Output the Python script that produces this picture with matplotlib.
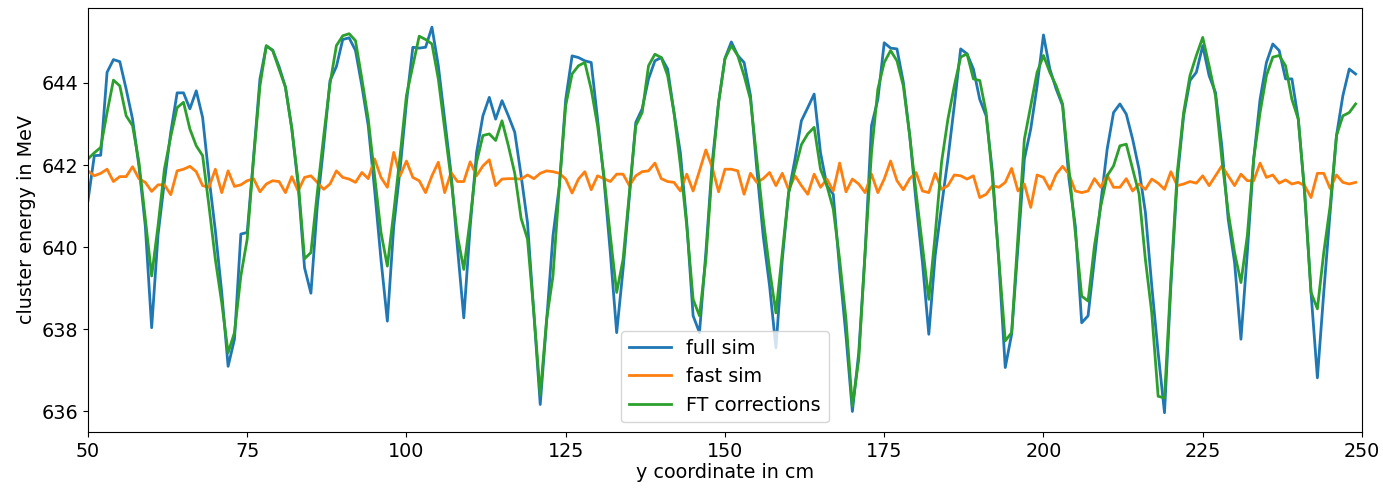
import matplotlib
matplotlib.use("Agg")
import matplotlib.pyplot as plt
import numpy as np

# y positions in cm, one sample per cm
y_pos = np.arange(50, 250)

full_sim = [
    641.13, 642.23, 642.24, 644.26, 644.57, 644.52, 643.85, 643.12, 641.98, 640.52,
    638.04, 640.30, 641.60, 642.80, 643.76, 643.76, 643.37, 643.81, 643.16, 641.70,
    640.40, 638.90, 637.10, 637.76, 640.32, 640.36, 642.20, 644.10, 644.90, 644.80,
    644.40, 643.90, 642.90, 641.50, 639.50, 638.88, 641.00, 642.47, 644.06, 644.40,
    645.06, 645.10, 644.79, 643.93, 642.96, 641.40, 639.70, 638.20, 640.50, 641.90,
    643.53, 644.87, 644.85, 644.87, 645.36, 644.42, 643.12, 641.80, 640.00, 638.28,
    640.50, 642.30, 643.20, 643.65, 643.12, 643.57, 643.20, 642.80, 641.74, 640.60,
    638.40, 636.17, 638.20, 640.28, 641.50, 643.60, 644.66, 644.62, 644.54, 644.50,
    643.12, 641.66, 639.87, 637.92, 639.46, 641.25, 643.04, 643.37, 644.10, 644.54,
    644.62, 644.34, 643.28, 642.30, 640.60, 638.33, 637.92, 639.87, 642.07, 643.53,
    644.60, 645.00, 644.67, 644.50, 643.70, 641.90, 640.28, 639.06, 637.55, 639.70,
    641.33, 642.15, 643.08, 643.40, 643.73, 642.30, 641.50, 641.29, 639.46, 637.84,
    636.00, 637.43, 639.87, 642.96, 643.60, 644.98, 644.85, 644.83, 644.02, 642.72,
    641.10, 639.63, 637.88, 639.80, 641.00, 642.15, 643.45, 644.83, 644.71, 644.34,
    643.60, 643.20, 641.82, 639.63, 637.07, 637.88, 640.03, 642.15, 642.88, 643.93,
    645.17, 644.34, 643.85, 643.45, 641.66, 640.52, 638.16, 638.33, 639.70, 641.09,
    642.39, 643.28, 643.49, 643.24, 642.63, 641.90, 640.85, 639.06, 637.43, 635.97,
    639.06, 641.66, 643.20, 644.06, 644.26, 644.91, 644.18, 643.77, 642.47, 640.68,
    639.63, 637.76, 639.87, 642.15, 643.60, 644.50, 644.95, 644.79, 644.10, 644.10,
    643.12, 641.33, 638.90, 636.82, 638.90, 640.85, 642.72, 643.69, 644.34, 644.22,
]

fast_sim = [
    641.86, 641.74, 641.80, 641.90, 641.60, 641.72, 641.72, 641.96, 641.67, 641.58,
    641.36, 641.52, 641.52, 641.28, 641.86, 641.90, 641.97, 641.84, 641.50, 641.46,
    641.90, 641.33, 641.86, 641.48, 641.52, 641.62, 641.67, 641.35, 641.54, 641.62,
    641.60, 641.33, 641.72, 641.37, 641.70, 641.74, 641.58, 641.41, 641.54, 641.86,
    641.70, 641.66, 641.58, 641.82, 641.67, 642.15, 641.70, 641.46, 642.31, 641.74,
    642.10, 641.70, 641.62, 641.33, 641.74, 642.07, 641.33, 641.82, 641.60, 641.60,
    642.08, 641.74, 641.98, 642.13, 641.50, 641.66, 641.67, 641.67, 641.66, 641.76,
    641.67, 641.80, 641.86, 641.84, 641.80, 641.66, 641.32, 641.66, 641.84, 641.40,
    641.74, 641.67, 641.60, 641.78, 641.78, 641.50, 641.74, 641.84, 641.86, 642.05,
    641.67, 641.60, 641.58, 641.37, 641.78, 641.37, 641.86, 642.37, 641.94, 641.35,
    641.90, 641.90, 641.86, 641.29, 641.80, 641.58, 641.67, 641.82, 641.50, 641.80,
    641.40, 641.74, 641.50, 641.29, 641.78, 641.46, 641.66, 641.37, 642.05, 641.35,
    641.66, 641.54, 641.33, 641.78, 641.33, 641.66, 642.10, 641.62, 641.40, 641.67,
    641.82, 641.37, 641.33, 641.80, 641.41, 641.50, 641.76, 641.74, 641.66, 641.74,
    641.21, 641.29, 641.50, 641.46, 641.58, 641.92, 641.37, 641.54, 640.97, 641.76,
    641.70, 641.41, 641.78, 641.97, 641.78, 641.37, 641.33, 641.37, 641.67, 641.46,
    641.76, 641.46, 641.46, 641.67, 641.37, 641.54, 641.41, 641.66, 641.56, 641.41,
    641.84, 641.50, 641.54, 641.60, 641.56, 641.74, 641.50, 641.74, 641.98, 641.74,
    641.50, 641.78, 641.62, 641.62, 642.05, 641.70, 641.76, 641.56, 641.64, 641.54,
    641.58, 641.50, 641.21, 641.80, 641.80, 641.43, 641.76, 641.58, 641.54, 641.58,
]

ft_corr = [
    642.15, 642.30, 642.43, 643.28, 644.07, 643.93, 643.20, 642.96, 642.07, 640.70,
    639.30, 640.52, 641.90, 642.70, 643.40, 643.53, 642.88, 642.47, 642.23, 641.00,
    639.70, 638.65, 637.43, 637.92, 639.30, 640.20, 642.15, 643.93, 644.91, 644.79,
    644.34, 643.90, 642.88, 641.60, 639.72, 639.87, 641.33, 642.70, 643.98, 644.91,
    645.15, 645.20, 645.03, 644.10, 643.12, 641.74, 640.36, 639.54, 640.85, 642.23,
    643.70, 644.42, 645.14, 645.06, 644.95, 644.10, 642.88, 641.66, 640.28, 639.46,
    640.68, 642.07, 642.72, 642.76, 642.60, 643.08, 642.47, 641.80, 640.70, 640.20,
    638.40, 636.40, 638.24, 639.30, 641.50, 643.45, 644.22, 644.42, 644.50, 643.85,
    642.96, 641.74, 640.28, 638.90, 639.70, 641.33, 642.96, 643.28, 644.42, 644.70,
    644.62, 644.18, 643.28, 642.00, 640.52, 638.73, 638.33, 639.70, 641.90, 643.53,
    644.59, 644.91, 644.67, 644.18, 643.60, 642.15, 640.70, 639.46, 638.40, 639.87,
    641.33, 641.90, 642.50, 642.76, 642.92, 641.90, 641.50, 640.93, 639.70, 638.24,
    636.13, 637.27, 639.87, 642.30, 643.85, 644.50, 644.79, 644.54, 643.93, 642.72,
    641.33, 640.03, 638.73, 640.30, 642.07, 643.12, 643.93, 644.63, 644.71, 644.10,
    644.06, 643.28, 641.66, 639.70, 637.72, 637.92, 640.28, 642.63, 643.45, 644.26,
    644.67, 644.26, 643.93, 643.49, 641.90, 640.36, 638.81, 638.69, 640.03, 641.00,
    641.74, 641.98, 642.47, 642.51, 641.90, 641.30, 639.70, 638.40, 636.37, 636.33,
    639.22, 641.82, 643.28, 644.18, 644.67, 645.11, 644.42, 643.69, 642.15, 640.85,
    639.87, 639.14, 640.28, 642.15, 643.28, 644.18, 644.63, 644.67, 644.42, 643.60,
    643.12, 641.33, 638.90, 638.50, 639.87, 641.00, 642.72, 643.20, 643.28, 643.49,
]

plt.rcParams['font.size'] = 13.8

fig, ax = plt.subplots(figsize=(13.83, 4.92), dpi=100)
fig.subplots_adjust(left=0.0636, right=0.9848, top=0.984, bottom=0.122)

ax.plot(y_pos, full_sim, lw=2.0, label='full sim')
ax.plot(y_pos, fast_sim, lw=2.0, label='fast sim')
ax.plot(y_pos, ft_corr, lw=2.0, label='FT corrections')

ax.set_xlim(50, 250)
ax.set_xlabel('y coordinate in cm', labelpad=2)
ax.set_ylabel('cluster energy in MeV', labelpad=4)
ax.legend(loc='lower center', handlelength=2.2)

fig.savefig('out.png', dpi=100)
